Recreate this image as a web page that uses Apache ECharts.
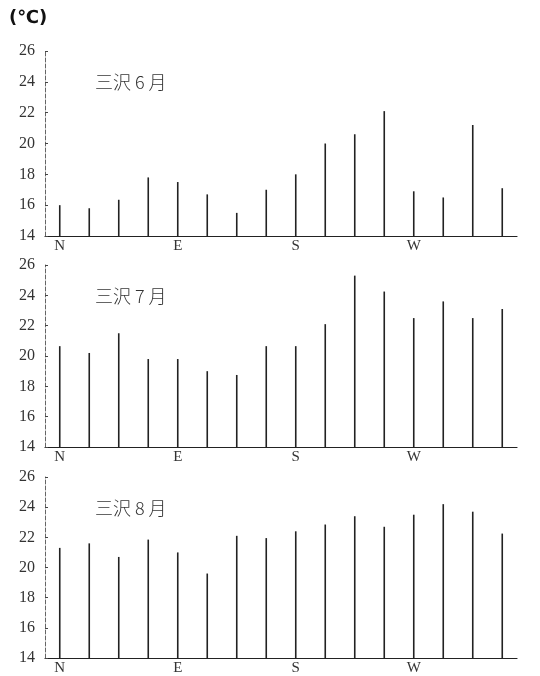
<!DOCTYPE html>
<html><head><meta charset="utf-8">
<script src="https://cdn.jsdelivr.net/npm/echarts@6/dist/echarts.min.js"></script>
<style>html,body{margin:0;padding:0;background:#fff}#c{width:540px;height:676px}</style>
</head><body><div id="c"></div>
<script>
const directions = ['N','NNE','NE','ENE','E','ESE','SE','SSE','S','SSW','SW','WSW','W','WNW','NW','NNW'];
const yTicks = [14,16,18,20,22,24,26];
const panelTitles = ['三沢 6 月','三沢 7 月','三沢 8 月'];
const june   = [16.0,15.8,16.35,17.8,17.5,16.7,15.5,17.0,18.0,20.0,20.6,22.1,16.9,16.5,21.2,17.1];
const july   = [20.65,20.2,21.5,19.8,19.8,19.0,18.75,20.65,20.65,22.1,25.3,24.25,22.5,23.6,22.5,23.1];
const august = [21.3,21.6,20.7,21.85,21.0,19.6,22.1,21.95,22.4,22.85,23.4,22.7,23.5,24.2,23.7,22.25];
const unitLabel = '(℃)';

const monthData = [june, july, august];
const grids = [
  {left:45, right:23, top:51, height:185},
  {left:45, right:23, top:265, height:182},
  {left:45, right:23, top:477, height:181}
];
const serif = '"Liberation Serif","DejaVu Serif",serif';
const chart = echarts.init(document.getElementById('c'));
const option = {
  animation:false,
  backgroundColor:'#fff',
  grid: grids,
  title: panelTitles.map((t,i)=>({
    text:t, left:90, top: grids[i].top + 17,
    textStyle:{fontFamily:'"Noto Sans CJK JP",sans-serif', fontWeight:300, fontSize:18, color:'#333'}
  })),
  graphic:[{type:'text', left:9, top:9, style:{text:unitLabel, font:'bold 18px "DejaVu Sans",sans-serif', fill:'#111'}}],
  xAxis: grids.map((g,i)=>({
    type:'category', gridIndex:i, data:directions, boundaryGap:true,
    axisLine:{lineStyle:{color:'#222', width:1.2}},
    axisTick:{show:false},
    axisLabel:{interval:3, margin:3, fontFamily:serif, fontSize:15, color:'#333'}
  })),
  yAxis: grids.map((g,i)=>({
    type:'value', gridIndex:i, min:14, max:26, interval:2,
    axisLine:{show:true, lineStyle:{color:'#666', width:1, type:'dashed'}},
    axisTick:{show:true, inside:true, length:3, lineStyle:{color:'#444'}},
    splitLine:{show:false},
    axisLabel:{margin:10, fontFamily:serif, fontSize:16, color:'#333',
      formatter:v=> yTicks.includes(v) ? String(v) : ''}
  })),
  series: monthData.map((d,i)=>({
    type:'bar', xAxisIndex:i, yAxisIndex:i, data:d, barWidth:1.6,
    itemStyle:{color:'#222'}
  }))
};
chart.setOption(option);
</script></body></html>
